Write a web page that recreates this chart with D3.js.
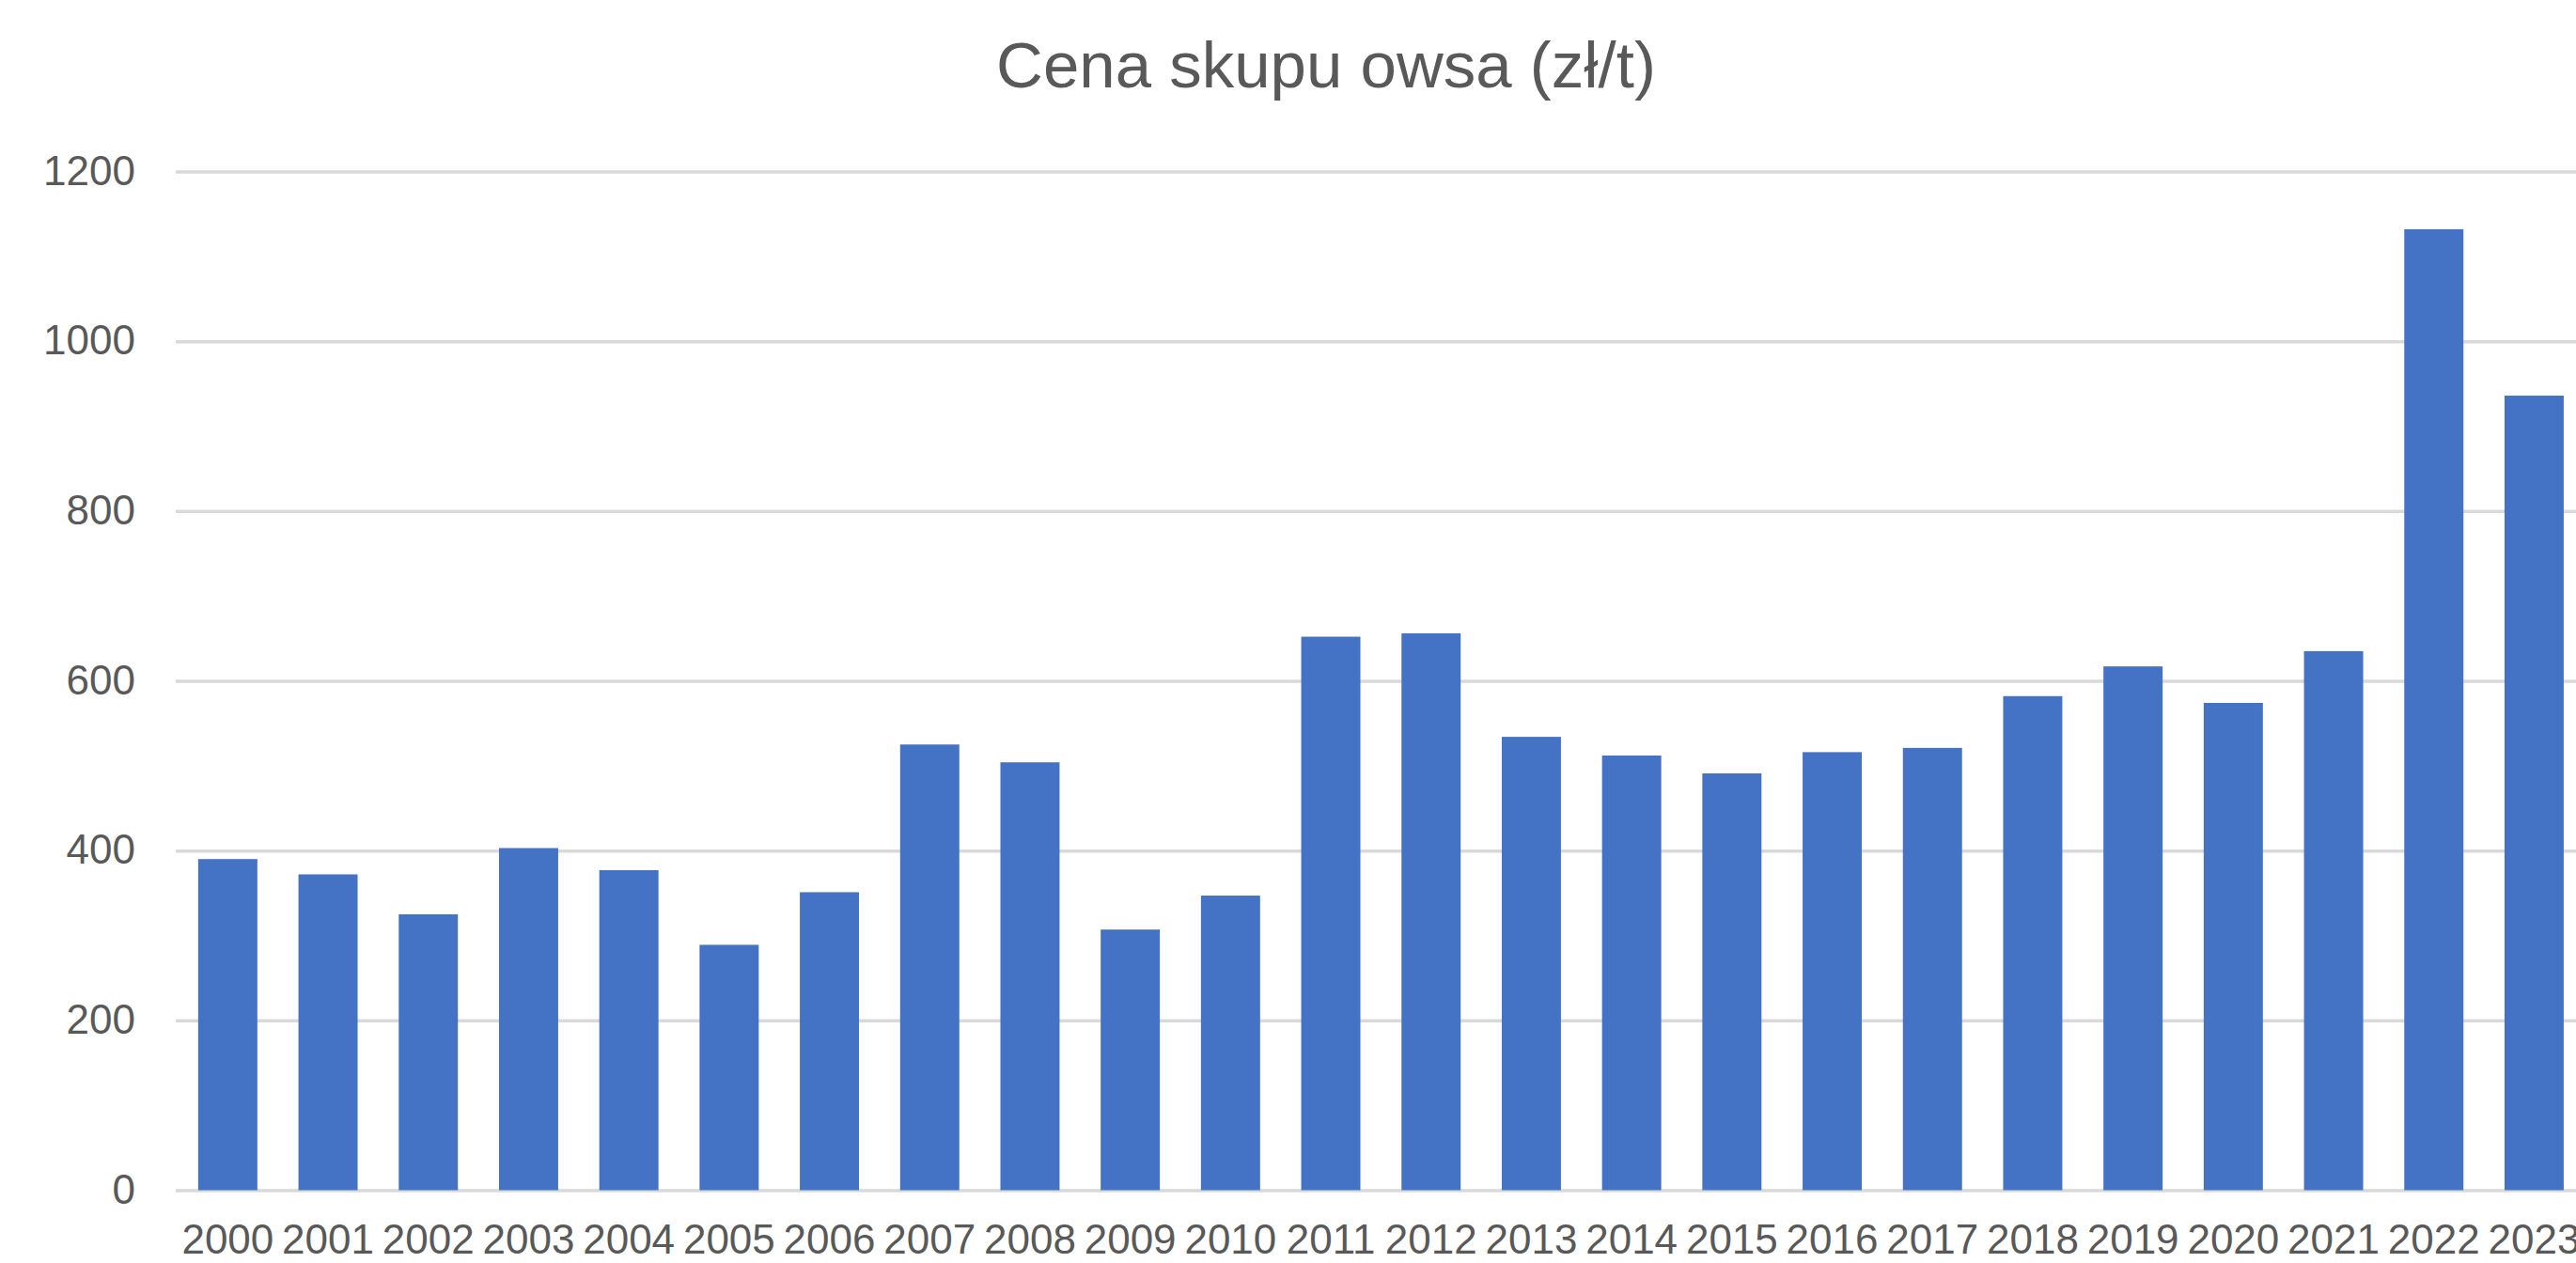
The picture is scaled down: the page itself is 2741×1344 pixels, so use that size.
<!DOCTYPE html>
<html>
<head>
<meta charset="utf-8">
<title>Cena skupu owsa</title>
<script src="https://d3js.org/d3.v7.min.js"></script>
<style>
  body { margin: 0; background: #ffffff; }
  svg { display: block; }
</style>
</head>
<body>
<div id="chart"></div>
<script>

// data
var years = ["2000", "2001", "2002", "2003", "2004", "2005", "2006", "2007",
  "2008", "2009", "2010", "2011", "2012", "2013", "2014", "2015", "2016",
  "2017", "2018", "2019", "2020", "2021", "2022", "2023"];
var prices = [390, 372, 325, 403, 377, 289, 351, 525, 504, 307, 347, 652,
  656, 534, 512, 491, 516, 521, 582, 617, 574, 635, 1132, 936];
var yTicks = [0, 200, 400, 600, 800, 1000, 1200];
var title = "Cena skupu owsa (zł/t)";

var svgWidth = 2741;
var svgHeight = 1344;

// plot area (the right edge runs past the picture, like the original)
var plotLeft = 189;
var step = 106.7;
var plotRight = plotLeft + step * years.length;
var plotTop = 182.5;
var plotBottom = 1266.5;

var svg = d3.select("#chart")
  .append("svg")
  .attr("width", svgWidth)
  .attr("height", svgHeight)
  .style("font-family", "'Liberation Sans', Arial, sans-serif");

svg.append("rect")
  .attr("width", svgWidth)
  .attr("height", svgHeight)
  .attr("fill", "#ffffff");

var xScale = d3.scaleBand()
  .domain(years)
  .range([plotLeft, plotRight])
  .paddingInner(0.41)
  .paddingOuter(0.205);

var yScale = d3.scaleLinear()
  .domain([0, 1200])
  .range([plotBottom, plotTop]);

// gridlines + y labels
var yAxis = d3.axisLeft(yScale)
  .tickValues(yTicks)
  .tickSize(-(plotRight - 187))
  .tickPadding(0)
  .tickFormat(d3.format("d"));

var yAxisGroup = svg.append("g")
  .attr("transform", "translate(187, 0)")
  .call(yAxis);

yAxisGroup.select(".domain").remove();
yAxisGroup.selectAll(".tick line")
  .attr("stroke", "#d9d9d9")
  .attr("stroke-width", 3.5);
yAxisGroup.selectAll(".tick text")
  .attr("x", 144 - 187)
  .attr("dy", null)
  .attr("y", 13.5)
  .attr("fill", "#595959")
  .attr("font-size", "44px")
  .attr("text-anchor", "end");

// bars
svg.append("g")
  .selectAll("rect")
  .data(prices)
  .enter()
  .append("rect")
  .attr("x", (d, i) => xScale(years[i]))
  .attr("y", d => yScale(d))
  .attr("width", xScale.bandwidth())
  .attr("height", d => yScale(0) - yScale(d))
  .attr("fill", "#4472c4");

// x labels (kept just inside the bottom edge)
var xAxis = d3.axisBottom(xScale)
  .tickSize(0)
  .tickPadding(0);

var xAxisGroup = svg.append("g")
  .attr("transform", `translate(0, ${plotBottom})`)
  .call(xAxis);

xAxisGroup.select(".domain").remove();
xAxisGroup.selectAll(".tick text")
  .attr("dy", null)
  .attr("y", 67)
  .attr("fill", "#595959")
  .attr("font-size", "44px");

// title
svg.append("text")
  .attr("x", 1411)
  .attr("y", 93)
  .attr("text-anchor", "middle")
  .attr("fill", "#595959")
  .attr("font-size", "69px")
  .text(title);

</script>
</body>
</html>
